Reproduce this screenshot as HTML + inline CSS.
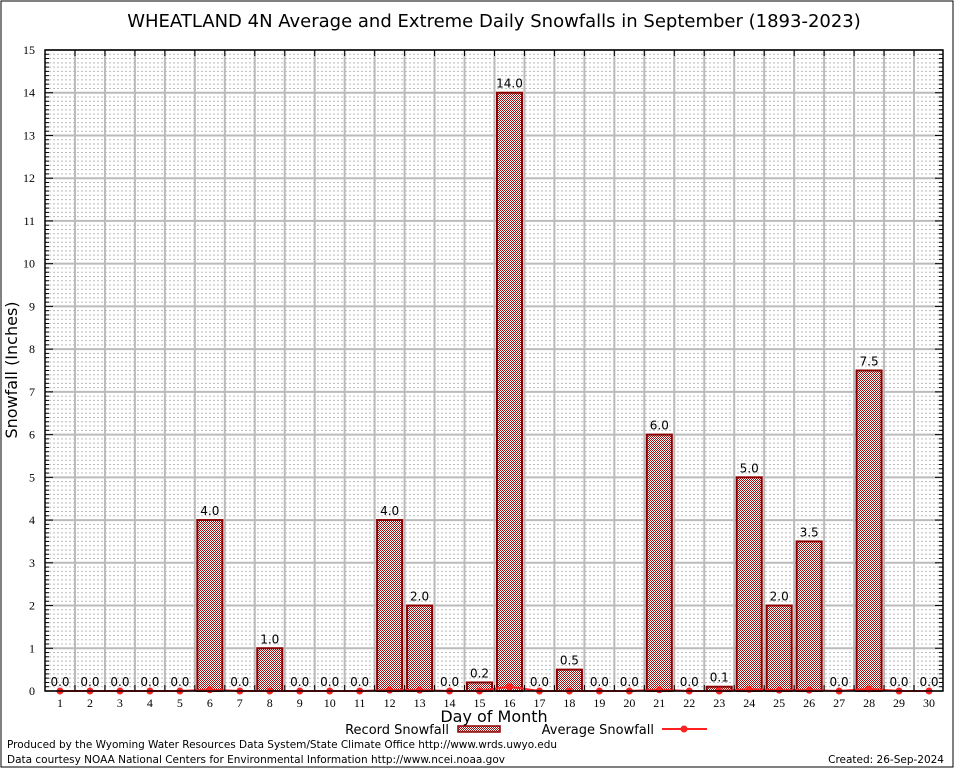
<!DOCTYPE html>
<html><head><meta charset="utf-8"><style>
body{margin:0;background:#fff}
svg{display:block;font-family:"DejaVu Sans","Liberation Sans",sans-serif}
</style></head><body>
<svg id="chart" width="954" height="768" viewBox="0 0 954 768">
<defs>
<pattern id="chk" width="2" height="2" patternUnits="userSpaceOnUse">
<rect width="2" height="2" fill="#fff"/><rect width="1" height="1" fill="#a01010"/><rect x="1" y="1" width="1" height="1" fill="#a01010"/>
</pattern>
</defs>
<rect x="1" y="1" width="952" height="766" fill="#fff" stroke="#000" stroke-width="1"/>
<text x="494" y="27" font-size="18" text-anchor="middle">WHEATLAND 4N Average and Extreme Daily Snowfalls in September (1893-2023)</text>
<g id="grid"></g>
<g id="bars"></g>
<g id="avg"></g>
<g id="axes"></g>
<text transform="translate(17,370) rotate(-90)" font-size="16" text-anchor="middle">Snowfall (Inches)</text>
<text x="494" y="722" font-size="16" text-anchor="middle">Day of Month</text>
<g>
<text x="449" y="734" font-size="13" text-anchor="end">Record Snowfall</text>
<rect x="458" y="726" width="42" height="6" fill="url(#chk)" stroke="#8b0000" stroke-width="1.5"/>
<text x="654" y="734" font-size="13" text-anchor="end">Average Snowfall</text>
<line x1="662" y1="729" x2="707" y2="729" stroke="#ff2020" stroke-width="2"/>
<circle cx="684" cy="729" r="3.5" fill="#ff2020"/>
</g>
<text x="7" y="748" font-size="10.5" textLength="550">Produced by the Wyoming Water Resources Data System/State Climate Office http://www.wrds.uwyo.edu</text>
<text x="7" y="763" font-size="10.5" textLength="498">Data courtesy NOAA National Centers for Environmental Information http://www.ncei.noaa.gov</text>
<text x="944" y="763" font-size="10.5" text-anchor="end">Created: 26-Sep-2024</text>
</svg>
<script>
const days=[1,2,3,4,5,6,7,8,9,10,11,12,13,14,15,16,17,18,19,20,21,22,23,24,25,26,27,28,29,30];
const recordValues=[0,0,0,0,0,4.0,0,1.0,0,0,0,4.0,2.0,0,0.2,14.0,0,0.5,0,0,6.0,0,0.1,5.0,2.0,3.5,0,7.5,0,0];
const averageValues=[0,0,0,0,0,0.03,0,0,0,0,0,0.02,0.02,0,0,0.1,0,0,0,0,0.03,0,0,0.04,0.02,0.02,0,0.05,0,0];
const yTicks=[0,1,2,3,4,5,6,7,8,9,10,11,12,13,14,15];
const L=45,R=943,T=50,B=691,yMax=15;
const xS=d=>60+(d-1)*(929-60)/29;
const yS=v=>B-(v/yMax)*(B-T);
const NS='http://www.w3.org/2000/svg';
function mk(tag,attrs,parent){const e=document.createElementNS(NS,tag);for(const k in attrs)e.setAttribute(k,attrs[k]);parent.appendChild(e);return e;}
const grid=document.getElementById('grid'),bars=document.getElementById('bars'),avg=document.getElementById('avg'),axes=document.getElementById('axes');
mk('rect',{x:L,y:T,width:R-L,height:B-T,fill:'#fff'},grid);
for(let v=0;v<yMax;v+=0.1){const y=yS(v);if(Math.abs(v-Math.round(v))<0.01)continue;
const l=mk('line',{x1:L,x2:R,y1:y,y2:y,stroke:'#bbb','stroke-width':1,'stroke-dasharray':'2,2'},grid);

}
yTicks.forEach(v=>{const y=yS(v);
const l=mk('line',{x1:L,x2:R,y1:y,y2:y,stroke:'#bbb','stroke-width':2},grid);


const t=mk('text',{x:L-10,y:y+4,'font-size':12,'text-anchor':'end','font-family':'Liberation Serif,serif'},axes);t.textContent=v;


mk('line',{x1:L,x2:L+8,y1:y,y2:y,stroke:'#000'},axes);mk('line',{x1:R,x2:R-8,y1:y,y2:y,stroke:'#000'},axes);
if(v<yMax)for(let k=1;k<10;k++){const yy=yS(v+k/10);mk('line',{x1:L,x2:L+4,y1:yy,y2:yy,stroke:'#000'},axes);mk('line',{x1:R,x2:R-4,y1:yy,y2:yy,stroke:'#000'},axes);}
});
days.forEach((d,i)=>{if(i<days.length-1){const x=xS(d)+(xS(2)-xS(1))/2;
const l=mk('line',{x1:x,x2:x,y1:T,y2:B,stroke:'#bbb','stroke-width':2},grid);


mk('line',{x1:x,x2:x,y1:B,y2:B-6,stroke:'#000'},axes);mk('line',{x1:x,x2:x,y1:T,y2:T+6,stroke:'#000'},axes);}
const t=mk('text',{x:xS(d),y:B+16,'font-size':12,'text-anchor':'middle','font-family':'Liberation Serif,serif'},axes);t.textContent=d;


const v=recordValues[i],y=yS(v);
if(v>0){const r=mk('rect',{x:xS(d)-12.5,y:y,width:25,height:B-y,fill:'url(#chk)',stroke:'#8b0000','stroke-width':2},bars);

}
const lb=mk('text',{x:xS(d),y:y-5,'font-size':12,'text-anchor':'middle'},bars);lb.textContent=v.toFixed(1);


});
const pts=days.map((d,i)=>xS(d)+','+yS(averageValues[i])).join(' ');
const pl=mk('polyline',{points:pts,fill:'none',stroke:'#ff2020','stroke-width':2},avg);


days.forEach((d,i)=>{const c=mk('circle',{cx:xS(d),cy:yS(averageValues[i]),r:3.5,fill:'#ff2020'},avg);

});
const fr=mk('rect',{x:L,y:T,width:R-L,height:B-T,fill:'none',stroke:'#000','stroke-width':1.5},axes);


</script>
</body></html>
